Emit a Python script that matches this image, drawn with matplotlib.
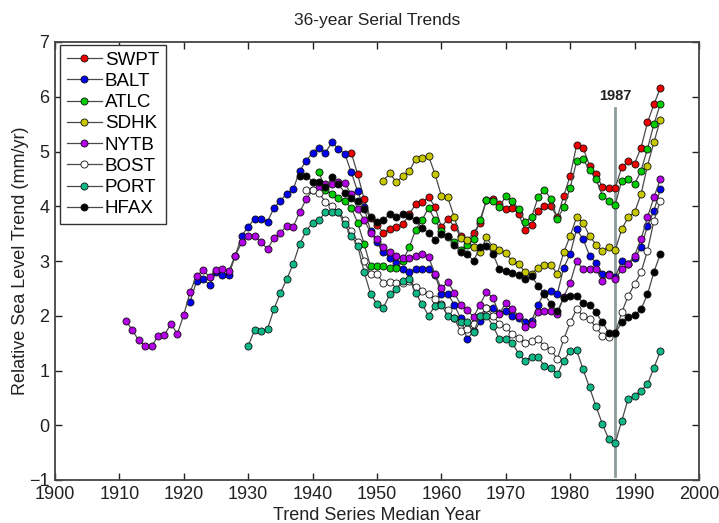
import numpy as np
import matplotlib
matplotlib.use("Agg")
import matplotlib.pyplot as plt

plt.rcParams['font.family'] = ['Liberation Sans', 'DejaVu Sans']

# ---- data (trend in mm/yr by median year) ----
swpt_start = 1946
swpt = [4.98, 4.58, 4.13, 3.78, 3.65, 3.52, 3.58, 3.63, 3.67, 3.85,
        4.04, 4.07, 4.17, 3.99, 3.62, 3.77, 3.63, 3.45, 3.37, 3.51,
        3.70, 4.12, 4.14, 4.05, 3.95, 3.97, 3.86, 3.56, 3.65, 3.92,
        4.00, 4.00, 3.80, 4.19, 4.56, 5.12, 5.07, 4.74, 4.59, 4.35,
        4.34, 4.34, 4.71, 4.82, 4.78, 5.07, 5.53, 5.86, 6.16]

balt_start = 1921
balt = [2.26, 2.64, 2.68, 2.56, 2.79, 2.75, 2.75, 3.10, 3.46, 3.63,
        3.77, 3.77, 3.72, 3.97, 4.10, 4.23, 4.31, 4.65, 4.83, 4.98,
        5.07, 4.98, 5.17, 5.05, 4.96, 4.62, 4.27, 3.98, 3.55, 3.34,
        3.16, 3.06, 2.97, 2.85, 2.80, 2.85, 2.85, 2.85, 2.75, 2.40,
        2.40, 2.20, 1.95, 1.57, 1.72, 1.90, 2.15, 2.15, 2.05, 2.09,
        2.00, 1.95, 1.88, 1.90, 2.20, 2.42, 2.45, 2.40, 2.88, 3.13,
        3.58, 3.40, 3.10, 2.97, 2.76, 2.76, 2.70, 3.00, 2.95, 3.05,
        3.25, 3.64, 3.92, 4.31]

atlc_start = 1941
atlc = [4.62, 4.30, 4.22, 4.15, 4.10, 3.97, 3.70, 3.31, 2.90, 2.90,
        2.90, 2.88, 2.88, 3.00, 3.25, 3.57, 3.75, 3.97, 3.75, 3.55,
        3.43, 3.34, 3.20, 3.30, 3.40, 3.75, 4.11, 4.10, 3.98, 4.19,
        4.10, 3.95, 3.72, 3.80, 4.16, 4.30, 4.13, 3.77, 3.98, 4.34,
        4.82, 4.86, 4.66, 4.50, 4.19, 4.10, 4.03, 4.47, 4.50, 4.40,
        4.65, 5.05, 5.50, 5.87]

sdhk_start = 1951
sdhk = [4.47, 4.60, 4.44, 4.55, 4.64, 4.86, 4.88, 4.92, 4.59, 4.19,
        4.16, 3.80, 3.42, 3.38, 3.25, 3.17, 3.43, 3.25, 3.20, 3.14,
        3.00, 2.94, 2.80, 2.76, 2.88, 2.93, 2.93, 2.76, 3.16, 3.46,
        3.80, 3.70, 3.46, 3.30, 3.19, 3.25, 3.20, 3.58, 3.80, 3.89,
        4.22, 4.74, 5.17, 5.58]

nytb_start = 1911
nytb = [1.91, 1.74, 1.55, 1.45, 1.44, 1.63, 1.65, 1.85, 1.67, 2.02,
        2.44, 2.73, 2.83, 2.71, 2.84, 2.85, 2.82, 3.10, 3.34, 3.46,
        3.46, 3.34, 3.22, 3.42, 3.52, 3.64, 3.63, 3.89, 4.13, 4.30,
        4.35, 4.40, 4.40, 4.45, 4.42, 4.22, 3.95, 3.75, 3.52, 3.40,
        3.25, 3.16, 3.10, 3.05, 3.05, 3.10, 3.12, 3.08, 2.76, 2.50,
        2.62, 2.42, 2.20, 2.10, 1.98, 2.20, 2.44, 2.32, 2.03, 2.24,
        2.12, 2.00, 1.80, 1.85, 2.06, 2.08, 2.09, 2.03, 2.35, 2.60,
        3.00, 2.85, 2.85, 2.85, 2.64, 2.75, 2.67, 2.85, 2.95, 3.10,
        3.40, 3.80, 4.16, 4.50]

bost_start = 1939
bost = [4.30, 4.30, 4.25, 4.07, 4.00, 3.90, 3.75, 3.55, 3.35, 3.00,
        2.76, 2.76, 2.60, 2.62, 2.60, 2.60, 2.64, 2.52, 2.46, 2.40,
        2.30, 2.22, 2.10, 1.95, 1.72, 1.75, 1.85, 2.00, 2.15, 2.00,
        1.85, 1.80, 1.66, 1.60, 1.51, 1.54, 1.57, 1.45, 1.38, 1.21,
        1.57, 1.88, 2.12, 2.00, 1.94, 1.79, 1.63, 1.62, 1.68, 2.06,
        2.36, 2.58, 2.79, 3.19, 3.73, 4.10]

port_start = 1930
port = [1.45, 1.74, 1.72, 1.76, 2.12, 2.42, 2.67, 2.95, 3.31, 3.55,
        3.70, 3.75, 3.89, 3.90, 3.89, 3.67, 3.46, 3.28, 2.80, 2.40,
        2.21, 2.15, 2.39, 2.49, 2.64, 2.67, 2.42, 2.21, 2.00, 2.18,
        2.20, 2.00, 1.95, 1.88, 1.88, 1.70, 2.00, 2.00, 1.82, 1.57,
        1.57, 1.51, 1.30, 1.18, 1.25, 1.25, 1.08, 1.05, 0.93, 1.18,
        1.36, 1.37, 1.02, 0.69, 0.35, 0.02, -0.26, -0.32, 0.08, 0.48,
        0.54, 0.63, 0.75, 1.05, 1.35]

hfax_start = 1938
hfax = [4.56, 4.56, 4.45, 4.45, 4.35, 4.53, 4.40, 4.25, 4.15, 4.10,
        3.95, 3.80, 3.72, 3.75, 3.86, 3.80, 3.86, 3.82, 3.75, 3.60,
        3.52, 3.38, 3.50, 3.45, 3.30, 3.17, 3.13, 3.00, 3.25, 3.28,
        3.13, 2.85, 2.82, 2.78, 2.75, 2.68, 2.72, 2.55, 2.39, 2.22,
        2.08, 2.33, 2.36, 2.36, 2.24, 2.20, 2.06, 1.88, 1.69, 1.68,
        1.88, 1.97, 2.01, 2.12, 2.39, 2.80, 3.13]

names = ['SWPT', 'BALT', 'ATLC', 'SDHK', 'NYTB', 'BOST', 'PORT', 'HFAX']
starts = [swpt_start, balt_start, atlc_start, sdhk_start, nytb_start,
          bost_start, port_start, hfax_start]
series = [swpt, balt, atlc, sdhk, nytb, bost, port, hfax]
colors = ['#ee0000', '#0000ee', '#00cc00', '#c8c800', '#b400e6',
          '#ffffff', '#10b888', '#000000']

marker_year = 1987
x_ticks = list(range(1900, 2001, 10))
y_ticks = list(range(-1, 8))

# ---- figure ----
fig = plt.figure(figsize=(7.19, 5.23), dpi=100)
ax = fig.add_axes([55/719, 1 - 480/523, 644/719, 438/523])

for name, st, vals, col in zip(names, starts, series, colors):
    yrs = st + np.arange(len(vals))
    ax.plot(yrs, vals, '-o', color='#4a4a4a', lw=0.9,
            markerfacecolor=col, markeredgecolor='#111111',
            markeredgewidth=0.6, markersize=5.1, label=name)

ax.plot([marker_year, marker_year], [-0.93, 5.8], color='#8c9c9c', lw=2.0, zorder=1)
ax.text(marker_year, 5.88, str(marker_year), ha='center', va='bottom',
        fontsize=10.5, fontweight='bold', color='#222222')

ax.set_xlim(1900, 2000)
ax.set_ylim(-1, 7)
ax.set_xticks(x_ticks)
ax.set_yticks(y_ticks)
ax.tick_params(direction='in', length=5, width=1, top=True, right=True,
               labelsize=13, pad=4, colors='#222222')
for s in ax.spines.values():
    s.set_linewidth(1.3)
    s.set_color('#444444')

ax.set_title('36-year Serial Trends', fontsize=12.5, pad=12, color='#222222')
ax.set_xlabel('Trend Series Median Year', fontsize=13, labelpad=3, color='#222222')
ax.set_ylabel('Relative Sea Level Trend (mm/yr)', fontsize=13, labelpad=0, color='#222222')

leg = ax.legend(loc='upper left', bbox_to_anchor=(5/644, 1 - 3/438),
                borderaxespad=0, fontsize=13.5, handlelength=1.9,
                handletextpad=0.15, labelspacing=0.22, borderpad=0.35,
                fancybox=False, framealpha=1, edgecolor='#333333')
leg.get_frame().set_linewidth(1.0)

fig.savefig('out.png', dpi=100)
